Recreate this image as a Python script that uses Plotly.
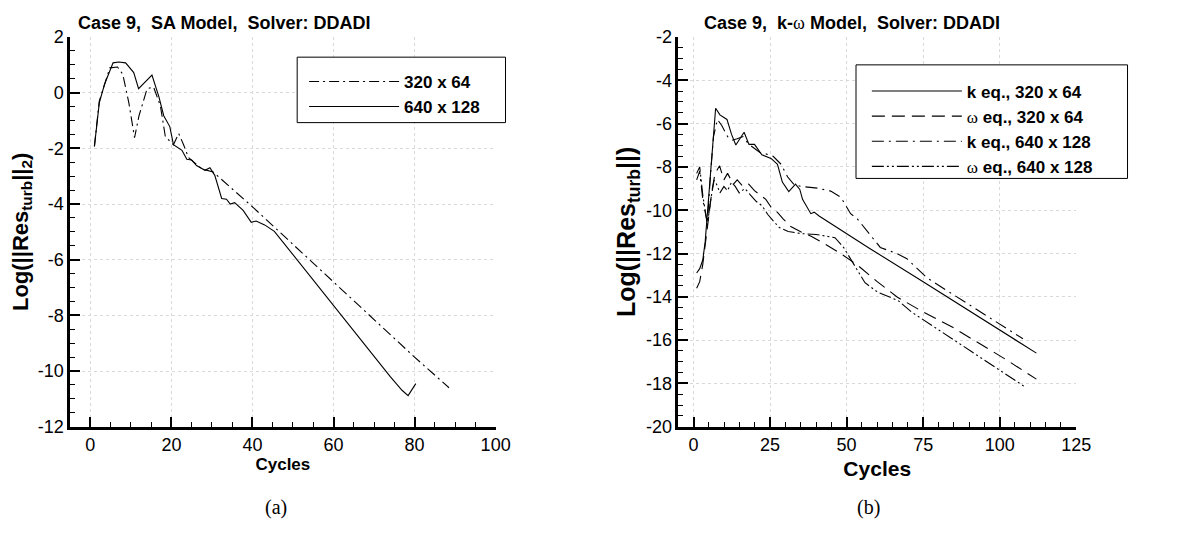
import plotly.graph_objects as go

# ---------------- Panel (a): SA model ----------------
sa_320_cycles = [1, 2.2, 4.8, 6.7, 8.0, 9.5, 10.9, 12.0, 14.0, 15.6, 17.3, 18.5, 20.5, 21.8, 23.0, 24.2,
                 27.5, 30.3, 40, 48.7, 60, 70, 80, 88.5]
sa_320_log = [-1.93, -0.3, 0.89, 0.92, 0.66, -0.37, -1.62, -0.83, 0.14, 0.2, -0.49, -1.58, -1.87, -1.47,
              -1.87, -2.33, -2.74, -2.85, -4.1, -5.27, -6.8, -8.15, -9.5, -10.6]

sa_640_cycles = [1, 2.2, 3.5, 5.6, 7, 8.7, 10.7, 11.9, 15.2, 16.9, 18.1, 19.6, 20.5, 22.6, 23.8, 25.0,
                 26.2, 28.3, 29.5, 30.7, 32.4, 33.6, 34.5, 35.6, 37.7, 39.7, 40.9, 43, 45.4, 49.5,
                 55, 60, 65, 70, 74, 76.9, 78.4, 80.3]
sa_640_log = [-1.93, -0.37, 0.3, 1.07, 1.1, 1.07, 0.72, 0.14, 0.63, -0.14, -0.83, -1.22, -1.87, -2.07,
              -2.39, -2.42, -2.62, -2.79, -2.70, -2.97, -3.80, -3.83, -4.0, -3.95, -4.23, -4.66, -4.61,
              -4.75, -4.98, -5.73, -6.75, -7.66, -8.57, -9.48, -10.2, -10.69, -10.88, -10.45]

sa_ytick_vals = [-12, -10, -8, -6, -4, -2, 0, 2]
sa_ytick_text = ["-12", "-10", "-8", "-6", "-4", "-2", "0", "2"]

# ---------------- Panel (b): k-omega model ----------------
k320_cycles = [1, 2, 3, 3.8, 7.2, 8.6, 10.9, 12.4, 13.8, 16.5, 18.1, 19.9, 22.3, 25.3, 27.4, 29.0, 31.1,
               33.3, 34.7, 35.6, 38.3, 39.4, 41.0, 57.8, 75, 95, 112]
k320_log = [-12.9, -12.7, -12.3, -11.44, -5.29, -5.6, -5.81, -6.5, -6.99, -6.40, -6.96, -6.96, -7.44,
            -7.61, -7.88, -8.70, -9.14, -8.80, -9.04, -9.5, -10.16, -10.09, -10.27, -11.79, -13.3,
            -15.1, -16.6]

w320_cycles = [1, 2, 3, 4, 5, 6, 7, 8.5, 9.9, 11.1, 13, 14.25, 16.1, 18, 19.9, 21.75, 23.6, 25.5, 27.4,
               29.25, 31.75, 35, 38.4, 44.8, 48.1, 53.5, 60, 66.5, 75, 84.8, 95, 102.1, 112]
w320_log = [-13.6, -13.3, -12.5, -11.4, -10.2, -9.1, -8.3, -7.95, -8.6, -8.3, -8.8, -8.6, -8.9, -8.8,
            -9.1, -9.3, -9.5, -9.9, -10.1, -10.4, -10.75, -11.0, -11.2, -11.72, -12.01, -12.53, -13.3,
            -14.01, -14.7, -15.42, -16.3, -16.9, -17.8]

k640_cycles = [1, 2, 3, 4.5, 5.5, 6.5, 7.8, 9.25, 11.1, 12.5, 14.25, 16.1, 18, 19.25, 21.9, 23.6, 26,
               28.6, 30.75, 32.9, 35.1, 40.5, 44.8, 48.1, 51.3, 53.5, 57, 61, 66.5, 69.7, 76.2, 85, 95,
               107.6]
k640_log = [-8.6, -8.2, -9.5, -10.6, -8.4, -6.6, -5.81, -6.1, -6.6, -6.77, -6.7, -6.6, -6.95, -7.07,
            -7.36, -7.4, -7.51, -7.88, -8.47, -8.83, -8.9, -8.98, -9.12, -9.4, -10.16, -10.4, -11.0,
            -11.72, -12.01, -12.24, -13.12, -13.9, -14.8, -15.94]

w640_cycles = [1, 2, 3, 4.5, 5.5, 6.7, 7.5, 8.6, 9.9, 11.1, 12.4, 13.6, 14.9, 16.75, 18.6, 20.5, 22.4,
               24.25, 26.1, 28, 30.9, 35, 40, 46.2, 49, 52.7, 56, 60.3, 66.8, 71.1, 85, 97.1, 108.7]
w640_log = [-8.3, -8.0, -9.3, -10.68, -9.6, -8.61, -8.8, -9.2, -8.9, -9.1, -8.7, -8.9, -9.2, -9.0,
            -9.3, -9.6, -9.8, -10.2, -10.5, -10.8, -10.98, -11.08, -11.12, -11.27, -11.72, -12.6,
            -13.35, -13.8, -14.17, -14.69, -15.99, -17.12, -18.2]

kw_ytick_vals = [-20, -18, -16, -14, -12, -10, -8, -6, -4, -2]
kw_ytick_text = ["-20", "-18", "-16", "-14", "-12", "-10", "-8", "-6", "-4", "-2"]

SANS = "Liberation Sans, Arial, Helvetica, sans-serif"
SERIF = "Liberation Serif, Times New Roman, serif"
OMEGA = "<span style='font-family:Liberation Serif;font-weight:normal'>ω</span>"
W, H = 1183, 533

fig = go.Figure()

def line(x, y, name, dash, xa, ya, legend):
    fig.add_trace(go.Scatter(x=x, y=y, name=name, mode="lines", xaxis=xa, yaxis=ya, legend=legend,
                             line=dict(color="black", width=1.1, dash=dash)))

line(sa_320_cycles, sa_320_log, "320 x 64", "10px,4px,2px,4px", "x", "y", "legend")
line(sa_640_cycles, sa_640_log, "640 x 128", "solid", "x", "y", "legend")

line(k320_cycles, k320_log, "k eq., 320 x 64", "solid", "x2", "y2", "legend2")
line(w320_cycles, w320_log, OMEGA + " eq., 320 x 64", "13px,7px", "x2", "y2", "legend2")
line(k640_cycles, k640_log, "k eq., 640 x 128", "12px,5px,2px,5px", "x2", "y2", "legend2")
line(w640_cycles, w640_log, OMEGA + " eq., 640 x 128", "12px,3px,2px,3px,2px,3px", "x2", "y2",
     "legend2")

def px_x(p):
    return p / W

def px_y(p):
    return 1 - p / H

ydom = [px_y(433), px_y(28)]
GRID = "#d9d9d9"

def xaxis(rng, dtick, mdtick, dom, anchor, title_size, standoff):
    return dict(domain=dom, range=rng, anchor=anchor, dtick=dtick, tick0=0,
                ticks="inside", ticklen=10, tickwidth=2, tickcolor="black",
                minor=dict(dtick=mdtick, ticks="inside", ticklen=5, tickwidth=1, tickcolor="black",
                           showgrid=False),
                showline=True, linewidth=2.5, linecolor="black", mirror=False,
                showgrid=True, gridcolor=GRID, griddash="dot", gridwidth=1,
                zeroline=False, tickfont=dict(family=SANS, size=18, color="black"),
                title=dict(text="Cycles", font=dict(family=SANS, size=title_size, color="black",
                                                     weight="bold"), standoff=standoff))

def yaxis(rng, vals, texts, anchor, title, title_size):
    return dict(domain=ydom, range=rng, anchor=anchor, tickmode="array", tickvals=vals, ticktext=texts,
                ticks="inside", ticklen=10, tickwidth=2, tickcolor="black",
                minor=dict(dtick=0.5, tick0=0, ticks="inside", ticklen=5, tickwidth=1,
                           tickcolor="black", showgrid=False),
                showline=True, linewidth=2.5, linecolor="black", mirror=False,
                showgrid=True, gridcolor=GRID, griddash="dot", gridwidth=1,
                zeroline=False, tickfont=dict(family=SANS, size=18, color="black"),
                title=dict(text=title, font=dict(family=SANS, size=title_size, color="black",
                                                 weight="bold"), standoff=4))

legend_common = dict(font=dict(family=SANS, size=17, color="black", weight="bold"),
                     borderwidth=0, bgcolor="rgba(0,0,0,0)",
                     itemwidth=90, xanchor="left", yanchor="top", traceorder="normal",
                     xref="paper", yref="paper")

# legend frames (left: 301-512 x 49-117 px, right: 867-1142 x 57-175 px)
frames = [(301, 49, 512, 117), (867, 57, 1142, 175)]
shapes = [dict(type="rect", xref="paper", yref="paper", x0=px_x(a), x1=px_x(c), y0=px_y(d), y1=px_y(b),
               line=dict(color="black", width=1), fillcolor="white", layer="above")
          for a, b, c, d in frames]

fig.update_layout(
    width=W, height=H, autosize=False,
    margin=dict(l=0, r=0, t=0, b=0),
    paper_bgcolor="white", plot_bgcolor="white",
    showlegend=True,
    xaxis=xaxis([-5, 100], 20, 5, [px_x(71), px_x(502)], "y", 17, 2),
    yaxis=yaxis([-12, 2], sa_ytick_vals, sa_ytick_text, "x",
                "Log(||Res<sub>turb</sub>||<sub>2</sub>)", 22),
    xaxis2=xaxis([-5, 125], 25, 5, [px_x(687), px_x(1090)], "y2", 21, 8),
    yaxis2=yaxis([-20, -2], kw_ytick_vals, kw_ytick_text, "x2", "Log(||Res<sub>turb</sub>||)", 25),
    legend=dict(x=px_x(308), y=px_y(56), **legend_common),
    legend2=dict(x=px_x(878), y=px_y(66), **legend_common),
    shapes=shapes,
    annotations=[
        dict(text="Case 9,\u00a0 SA Model,\u00a0 Solver: DDADI", x=px_x(77), y=px_y(14),
             xref="paper", yref="paper", xanchor="left", yanchor="middle", showarrow=False,
             font=dict(family=SANS, size=18, color="black", weight="bold")),
        dict(text="Case 9,\u00a0 k-" + OMEGA + " Model,\u00a0 Solver: DDADI", x=px_x(711), y=px_y(14),
             xref="paper", yref="paper", xanchor="left", yanchor="middle", showarrow=False,
             font=dict(family=SANS, size=18, color="black", weight="bold")),
        dict(text="(a)", x=px_x(280), y=px_y(517), xref="paper", yref="paper",
             xanchor="center", yanchor="middle", showarrow=False,
             font=dict(family=SERIF, size=20, color="black")),
        dict(text="(b)", x=px_x(880), y=px_y(517), xref="paper", yref="paper",
             xanchor="center", yanchor="middle", showarrow=False,
             font=dict(family=SERIF, size=20, color="black")),
    ],
)

fig.write_html("out.html")
